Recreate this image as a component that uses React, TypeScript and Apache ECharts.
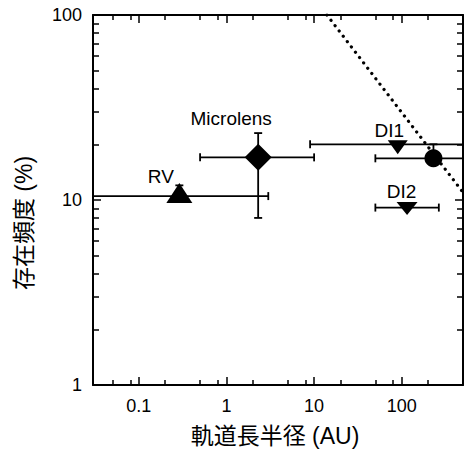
import React, { useEffect, useRef } from 'react';
import * as echarts from 'echarts';

// Data (semi-major axis in AU, occurrence frequency in %)
const pointNames = ['RV', 'Microlens', 'DI1', 'DI2', ''];
const pointX = [0.29, 2.3, 90, 115, 230];
const pointY = [10.5, 17, 20, 9.1, 16.8];
const xErrLow = [0.02, 0.5, 9, 50, 50];
const xErrHigh = [3.0, 10, 1000, 265, 1000];
const yErrLow: (number | null)[] = [null, 8, null, null, null];
const yErrHigh: (number | null)[] = [12, 23, null, null, 20];
const limitLineX = [14, 500];
const limitLineY = [100, 11];
const xRange = [0.03, 500];
const yRange = [1, 100];
const xMajorTicks = [0.1, 1, 10, 100];
const xMinorTicks = [0.05, 0.08, 0.2, 0.5, 0.8, 2, 5, 8, 20, 50, 80, 200];
const yMajorTicks = [1, 10, 100];
const yMinorTicks = [2, 3, 4, 5, 6, 7, 8, 9, 20, 30, 40, 50, 60, 70, 80, 90];
const xTitle = '軌道長半径 (AU)';
const yTitle = '存在頻度 (%)';

const FONT = "'Liberation Sans', Arial, 'Noto Sans CJK JP', sans-serif";
const DOWN = 'path://M0,0 L10,0 L5,7 Z';

// hidden linear axis over log10 of the range, used only to draw inward tick marks
function tickAxis(position: string, range: number[], values: number[], len: number, isY: boolean) {
  const ax: any = {
    type: 'value',
    position,
    min: Math.log10(range[0]),
    max: Math.log10(range[1]),
    axisLine: { show: false, onZero: false },
    axisLabel: { show: false },
    splitLine: { show: false },
    axisTick: {
      show: true,
      inside: true,
      length: len,
      customValues: values.map((v) => Math.log10(v)),
      lineStyle: { color: '#000', width: 1.5 },
    },
  };
  if (isY) ax.interval = 1;
  return ax;
}

export default function App() {
  const ref = useRef<HTMLDivElement>(null);
  useEffect(() => {
    document.body.style.margin = '0';
    const chart = echarts.init(ref.current!, null, { renderer: 'svg' });

    const symbols = ['triangle', 'diamond', DOWN, DOWN, 'circle'];
    const sizes: any[] = [[26, 20], 27, [20, 14], [21, 13], 18];
    const offsets: any[] = [[0, -3], [0, 0], [0, 3], [0, 1], [0, 0]];
    const labelOffsets: any[] = [[-18.5, -17], [-27, -39], [-8.5, -17], [-5.5, -17], [0, 0]];

    const scatterData = pointX.map((x, i) => ({
      value: [x, pointY[i]],
      name: pointNames[i],
      symbol: symbols[i],
      symbolSize: sizes[i],
      symbolOffset: offsets[i],
      label: {
        show: pointNames[i] !== '',
        formatter: pointNames[i],
        position: 'inside',
        offset: labelOffsets[i],
        color: '#000',
        fontSize: 19,
        fontFamily: FONT,
      },
    }));

    const errData = pointX.map((x, i) => [
      x, pointY[i], xErrLow[i], xErrHigh[i],
      yErrLow[i] == null ? NaN : yErrLow[i], yErrHigh[i] == null ? NaN : yErrHigh[i],
    ]);

    const labelFmt = (v: number) => {
      const l = Math.log10(v);
      return Math.abs(l - Math.round(l)) < 1e-6 ? String(Number(v.toPrecision(6))) : '';
    };

    const lineStyle = { stroke: '#000', lineWidth: 1.8 };
    const frameAxis = {
      axisLine: { show: true, onZero: false, lineStyle: { color: '#000', width: 2 } },
      axisTick: { show: false },
      splitLine: { show: false },
    };

    chart.setOption({
      animation: false,
      grid: { left: 93, top: 15, right: 5, bottom: 64, outerBoundsMode: 'none' },
      xAxis: [
        {
          type: 'log', logBase: 10, min: xRange[0], max: xRange[1], position: 'bottom',
          ...frameAxis,
          axisLabel: {
            formatter: labelFmt, showMinLabel: false, showMaxLabel: false,
            color: '#000', fontSize: 18, fontFamily: FONT, margin: 12,
          },
        },
        {
          type: 'log', logBase: 10, min: xRange[0], max: xRange[1], position: 'top',
          ...frameAxis,
          axisLabel: { show: false },
        },
        tickAxis('bottom', xRange, xMajorTicks, 8, false),
        tickAxis('bottom', xRange, xMinorTicks, 5, false),
        tickAxis('top', xRange, xMajorTicks, 8, false),
        tickAxis('top', xRange, xMinorTicks, 5, false),
      ],
      yAxis: [
        {
          type: 'log', logBase: 10, min: yRange[0], max: yRange[1], position: 'left',
          ...frameAxis,
          axisLabel: { formatter: labelFmt, color: '#000', fontSize: 18, fontFamily: FONT, margin: 11 },
        },
        {
          type: 'log', logBase: 10, min: yRange[0], max: yRange[1], position: 'right',
          ...frameAxis,
          axisLabel: { show: false },
        },
        tickAxis('left', yRange, yMajorTicks, 8, true),
        tickAxis('left', yRange, yMinorTicks, 6, true),
        tickAxis('right', yRange, yMajorTicks, 8, true),
        tickAxis('right', yRange, yMinorTicks, 6, true),
      ],
      graphic: [
        {
          type: 'text', x: 275, y: 436,
          style: { text: xTitle, fontSize: 23, fontFamily: FONT, fill: '#000', textAlign: 'center', textVerticalAlign: 'middle' },
        },
        {
          type: 'text', x: 24, y: 223, rotation: Math.PI / 2,
          style: { text: yTitle, fontSize: 23, fontFamily: FONT, fill: '#000', textAlign: 'center', textVerticalAlign: 'middle' },
        },
      ],
      series: [
        {
          type: 'custom',
          data: errData,
          encode: { x: 0, y: 1 },
          xAxisIndex: 0,
          yAxisIndex: 0,
          silent: true,
          z: 3,
          renderItem: (params: any, api: any) => {
            const cs = params.coordSys;
            const L = cs.x, R = cs.x + cs.width;
            const x = api.value(0), y = api.value(1);
            const c = api.coord([x, y]);
            const children: any[] = [];
            const cap = 4;
            const xlo = api.value(2), xhi = api.value(3), ylo = api.value(4), yhi = api.value(5);
            if (isFinite(xlo) && isFinite(xhi)) {
              let p1 = api.coord([xlo, y])[0];
              let p2 = api.coord([xhi, y])[0];
              const c1 = p1 >= L, c2 = p2 <= R;
              p1 = Math.max(p1, L);
              p2 = Math.min(p2, R);
              children.push({ type: 'line', shape: { x1: p1, y1: c[1], x2: p2, y2: c[1] }, style: lineStyle });
              if (c1) children.push({ type: 'line', shape: { x1: p1, y1: c[1] - cap, x2: p1, y2: c[1] + cap }, style: lineStyle });
              if (c2) children.push({ type: 'line', shape: { x1: p2, y1: c[1] - cap, x2: p2, y2: c[1] + cap }, style: lineStyle });
            }
            const top = isFinite(yhi) ? api.coord([x, yhi])[1] : c[1];
            const bot = isFinite(ylo) ? api.coord([x, ylo])[1] : c[1];
            if (top !== bot) {
              children.push({ type: 'line', shape: { x1: c[0], y1: top, x2: c[0], y2: bot }, style: lineStyle });
              if (isFinite(yhi)) children.push({ type: 'line', shape: { x1: c[0] - cap, y1: top, x2: c[0] + cap, y2: top }, style: lineStyle });
              if (isFinite(ylo)) children.push({ type: 'line', shape: { x1: c[0] - cap, y1: bot, x2: c[0] + cap, y2: bot }, style: lineStyle });
            }
            return { type: 'group', children };
          },
        },
        {
          type: 'line',
          data: limitLineX.map((x, i) => [x, limitLineY[i]]),
          xAxisIndex: 0,
          yAxisIndex: 0,
          showSymbol: false,
          symbol: 'none',
          silent: true,
          z: 2,
          lineStyle: { color: '#000', width: 3.2, type: [0.1, 6.6], cap: 'round' },
        },
        {
          type: 'scatter',
          data: scatterData,
          xAxisIndex: 0,
          yAxisIndex: 0,
          z: 4,
          itemStyle: { color: '#000', opacity: 1 },
        },
      ],
    });
    return () => chart.dispose();
  }, []);
  return <div ref={ref} style={{ position: 'absolute', left: 0, top: 0, width: 468, height: 449 }} />;
}
